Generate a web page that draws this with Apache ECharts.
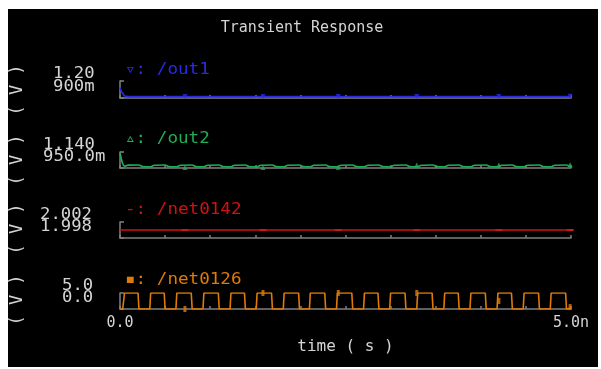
<!DOCTYPE html>
<html>
<head>
<meta charset="utf-8">
<script src="https://cdn.jsdelivr.net/npm/echarts@6/dist/echarts.min.js"></script>
<style>
  html, body { margin: 0; padding: 0; background: #fff; }
  #main { width: 601px; height: 369px; }
</style>
</head>
<body>
<div id="main"></div>
<script>
// Time axis in nanoseconds
const timeTickLabels = ['0.0', '5.0n'];

// Signal names and y-axis end labels (top, bottom)
const signalNames = ['/out1', '/out2', '/net0142', '/net0126'];
const markerGlyphs = ['\u25BF', '\u25B5', '-', '\u25AA'];
const yTopLabels = ['1.20', '1.140', '2.002', '5.0'];
const yBottomLabels = ['900m', '950.0m', '1.998', '0.0'];
const yMax = [1.20, 1.140, 2.002, 5.0];
const yMin = [0.90, 0.950, 1.998, 0.0];

// /out1 (V)
const out1Time = [0, 0.02, 0.05, 0.1, 0.3, 0.6, 0.72, 0.9, 1.2, 1.585, 1.8, 2.1, 2.42, 2.7, 3.0, 3.29, 3.6, 3.9, 4.2, 4.5, 4.8, 5.0];
const out1Volts = [1.08, 1.0, 0.935, 0.925, 0.924, 0.925, 0.926, 0.924, 0.925, 0.926, 0.924, 0.925, 0.926, 0.925, 0.924, 0.926, 0.925, 0.924, 0.925, 0.926, 0.925, 0.927];

// /out2 (V)
const out2Time = [0, 0.03, 0.05, 0.09,
  0.21, 0.25, 0.34, 0.38, 0.50, 0.54, 0.63, 0.67, 0.80, 0.84, 0.93, 0.97,
  1.10, 1.14, 1.23, 1.27, 1.39, 1.43, 1.52, 1.56, 1.69, 1.73, 1.82, 1.86,
  1.99, 2.03, 2.11, 2.15, 2.28, 2.32, 2.41, 2.45, 2.58, 2.62, 2.71, 2.75,
  2.87, 2.91, 3.00, 3.04, 3.17, 3.21, 3.30, 3.34, 3.47, 3.51, 3.60, 3.64,
  3.76, 3.80, 3.89, 3.93, 4.06, 4.10, 4.19, 4.23, 4.35, 4.39, 4.48, 4.52,
  4.65, 4.69, 4.78, 4.82, 4.95, 4.99, 5.0];
const out2Volts = [1.128, 1.0, 0.972, 0.984,
  0.986, 0.967, 0.964, 0.983, 0.986, 0.967, 0.964, 0.983, 0.986, 0.967, 0.964, 0.983,
  0.986, 0.967, 0.964, 0.983, 0.986, 0.967, 0.964, 0.983, 0.986, 0.967, 0.964, 0.983,
  0.986, 0.967, 0.964, 0.983, 0.986, 0.967, 0.964, 0.983, 0.986, 0.967, 0.964, 0.983,
  0.986, 0.967, 0.964, 0.983, 0.986, 0.967, 0.964, 0.983, 0.986, 0.967, 0.964, 0.983,
  0.986, 0.967, 0.964, 0.983, 0.986, 0.967, 0.964, 0.983, 0.986, 0.967, 0.964, 0.983,
  0.986, 0.967, 0.964, 0.983, 0.986, 0.968, 0.970];

// /net0142 (V)
const net0142Time = [0, 5.0];
const net0142Volts = [2.000, 2.000];

// /net0126 (V) clock edges
const clockTime = [0, 0.03, 0.05, 0.2, 0.21, 0.33, 0.34, 0.49, 0.5, 0.62, 0.63, 0.79, 0.8, 0.92, 0.93, 1.09, 1.1, 1.22, 1.23, 1.38, 1.39, 1.51, 1.52, 1.68, 1.69, 1.81, 1.82, 1.98, 1.99, 2.1, 2.11, 2.27, 2.28, 2.4, 2.41, 2.57, 2.58, 2.7, 2.71, 2.86, 2.87, 2.99, 3.0, 3.16, 3.17, 3.29, 3.3, 3.46, 3.47, 3.59, 3.6, 3.75, 3.76, 3.88, 3.89, 4.05, 4.06, 4.18, 4.19, 4.34, 4.35, 4.47, 4.48, 4.64, 4.65, 4.77, 4.78, 4.94, 4.95, 5.0];
const clockVolts = [0, 0, 5, 5, 0, 0, 5, 5, 0, 0, 5, 5, 0, 0, 5, 5, 0, 0, 5, 5, 0, 0, 5, 5, 0, 0, 5, 5, 0, 0, 5, 5, 0, 0, 5, 5, 0, 0, 5, 5, 0, 0, 5, 5, 0, 0, 5, 5, 0, 0, 5, 5, 0, 0, 5, 5, 0, 0, 5, 5, 0, 0, 5, 5, 0, 0, 5, 5, 0, 0.3];

// Marker positions (time, value) per trace
const markerTime = [0.72, 1.585, 2.42, 3.29, 4.2, 4.99];
const out1Marks = [0.928, 0.928, 0.928, 0.928, 0.928, 0.93];
const out2Marks = [0.955, 0.955, 0.958, 0.985, 0.985, 0.99];
const net0142Marks = [2.0, 2.0, 2.0, 2.0, 2.0, 2.0];
const clockMarks = [0, 5, 5, 5, 2.5, 0.6];

const colors = ['#2a2ae6', '#1fae55', '#d21212', '#e07a08'];
const textColor = '#d4d4d4';
const axisColor = '#808080';
const mono = '"DejaVu Sans Mono", monospace';

const stripTop = [81, 152, 222, 293];
const stripHeight = [17, 16, 16, 16];
const labelLeft = [53, 43, 40, 62];
const legendY = [70, 139, 210, 280];
const yNameCenter = [90, 160, 229, 300];

const pairs = (xs, ys) => xs.map((x, i) => [x, ys[i]]);

const traces = [
  pairs(out1Time, out1Volts),
  pairs(out2Time, out2Volts),
  pairs(net0142Time, net0142Volts),
  pairs(clockTime, clockVolts)
];
const marks = [out1Marks, out2Marks, net0142Marks, clockMarks].map(m => pairs(markerTime, m));

const grid = [], xAxis = [], yAxis = [], series = [], graphic = [];

graphic.push({
  type: 'rect', z: -100, silent: true,
  shape: { x: 8, y: 9, width: 590, height: 358 },
  style: { fill: '#000' }
});

for (let i = 0; i < 4; i++) {
  grid.push({ left: 120, right: 30, top: stripTop[i], height: stripHeight[i] });
  const last = i === 3;
  xAxis.push({
    gridIndex: i, type: 'value', min: 0, max: 5, interval: 0.5,
    axisLine: { lineStyle: { color: axisColor, width: 1.5 } },
    axisTick: { inside: true, length: 3, lineStyle: { color: axisColor, width: 1.5 } },
    splitLine: { show: false },
    axisLabel: {
      show: last, color: textColor, fontFamily: mono, fontSize: 15, margin: 7,
      showMinLabel: true, showMaxLabel: true,
      formatter: v => (v === 0 ? timeTickLabels[0] : (v === 5 ? timeTickLabels[1] : ''))
    },
    name: last ? 'time ( s )' : '',
    nameLocation: 'middle', nameGap: 30,
    nameTextStyle: { color: textColor, fontFamily: mono, fontSize: 16 }
  });
  const lo = yMin[i], hi = yMax[i];
  yAxis.push({
    gridIndex: i, type: 'value', min: lo, max: hi,
    axisLine: { show: true, lineStyle: { color: axisColor, width: 1.5 } },
    axisTick: { inside: true, length: 4, customValues: [lo, hi], lineStyle: { color: axisColor, width: 1.5 } },
    splitLine: { show: false },
    axisLabel: { show: false }
  });
  series.push({
    type: 'line', xAxisIndex: i, yAxisIndex: i, data: traces[i],
    showSymbol: false, animation: false, smooth: i === 1 ? 0.3 : false,
    lineStyle: { color: colors[i], width: 1.6 }
  });
  const sym = [
    { symbol: 'triangle', symbolRotate: 180, symbolSize: 5 },
    { symbol: 'triangle', symbolSize: 5 },
    { symbol: 'rect', symbolSize: [7, 2] },
    { symbol: 'rect', symbolSize: [3, 6] }
  ][i];
  series.push(Object.assign({
    type: 'scatter', xAxisIndex: i, yAxisIndex: i, data: marks[i], animation: false,
    itemStyle: { color: i === 2 ? '#ff2a2a' : colors[i] }
  }, sym));
  graphic.push({
    type: 'text', x: 125, y: legendY[i], scaleX: 1.1,
    style: { text: markerGlyphs[i] + ': ' + signalNames[i], fill: colors[i], font: '16px ' + mono, verticalAlign: 'middle' }
  });
  graphic.push({
    type: 'text', x: 18, y: yNameCenter[i], rotation: Math.PI / 2,
    style: { text: '( V )', fill: textColor, font: '17px ' + mono, align: 'center', verticalAlign: 'middle' }
  });
}

const chart = echarts.init(document.getElementById('main'), null, { renderer: 'canvas' });
chart.setOption({
  backgroundColor: '#fff',
  animation: false,
  title: {
    text: 'Transient Response', left: 297, top: 16, textAlign: 'center',
    textStyle: { color: textColor, fontFamily: mono, fontSize: 15, fontWeight: 'normal' }
  },
  grid, xAxis, yAxis, series, graphic
});

// End labels of each strip's value axis, placed from the axis scale
const endLabels = [];
for (let i = 0; i < 4; i++) {
  const yHi = chart.convertToPixel({ gridIndex: i }, [0, yMax[i]])[1];
  const yLo = chart.convertToPixel({ gridIndex: i }, [0, yMin[i]])[1];
  endLabels.push({
    type: 'text', x: labelLeft[i], y: yHi - 7, scaleX: 1.15,
    style: { text: yTopLabels[i], fill: textColor, font: '15px ' + mono, align: 'left', verticalAlign: 'middle' }
  });
  endLabels.push({
    type: 'text', x: labelLeft[i], y: yLo - 11, scaleX: 1.15,
    style: { text: yBottomLabels[i], fill: textColor, font: '15px ' + mono, align: 'left', verticalAlign: 'middle' }
  });
}
chart.setOption({ graphic: graphic.concat(endLabels) });
</script>
</body>
</html>
